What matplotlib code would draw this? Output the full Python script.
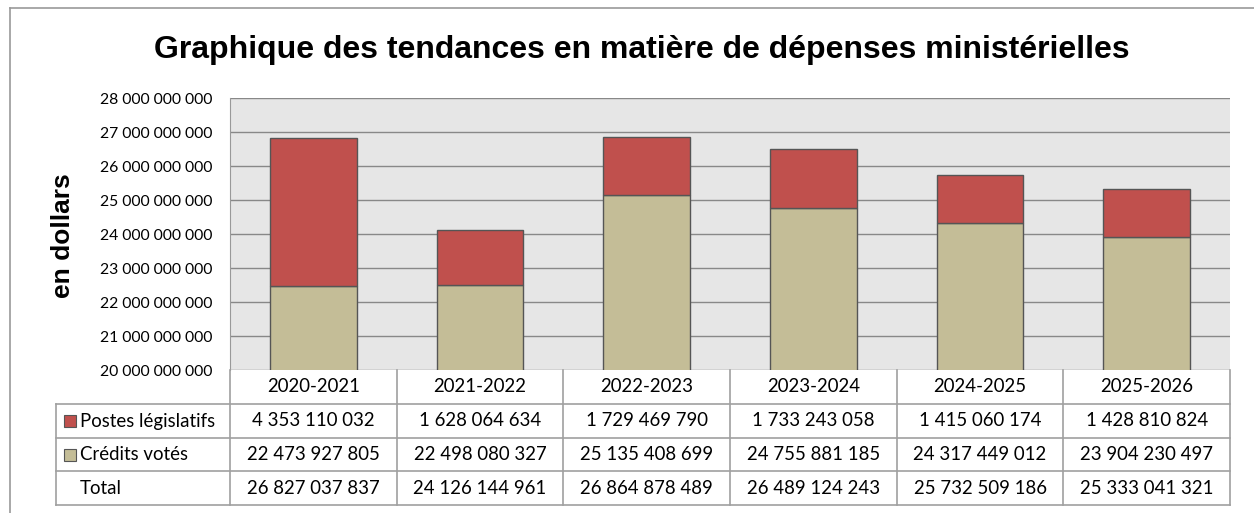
import matplotlib.pyplot as plt
from matplotlib.patches import Rectangle
from matplotlib.lines import Line2D

# data
years = ["2020-2021", "2021-2022", "2022-2023", "2023-2024", "2024-2025", "2025-2026"]
postes = [4353110032, 1628064634, 1729469790, 1733243058, 1415060174, 1428810824]
credits = [22473927805, 22498080327, 25135408699, 24755881185, 24317449012, 23904230497]
totals = [26827037837, 24126144961, 26864878489, 26489124243, 25732509186, 25333041321]

RED = "#c0504d"
TAN = "#c4bd97"
W, H = 1254, 513


def fmt(v):
    return f"{v:,}".replace(",", " ")


def fx(px):
    return px / W


def fy(py):
    return 1 - py / H


fig = plt.figure(figsize=(W / 100, H / 100), dpi=100)
plt.rcParams['font.family'] = ['Lato', 'DejaVu Sans']

# outer frame
fig.add_artist(Line2D([fx(10), 1.0], [fy(8), fy(8)], color="#999999", lw=1.2))
fig.add_artist(Line2D([fx(10), fx(10)], [fy(8), 0], color="#999999", lw=1.2))

fig.text(fx(642), fy(50), "Graphique des tendances en matière de dépenses ministérielles",
         ha="center", va="center", fontsize=23, fontweight="bold", family="Liberation Sans")
fig.text(fx(63), fy(236), "en dollars", rotation=90, ha="center", va="center",
         fontsize=19, fontweight="bold", family="Liberation Sans")

# bar chart area
left, right, top, bottom = 230, 1230, 98, 370
ax = fig.add_axes([fx(left), fy(bottom), fx(right - left), (bottom - top) / H])
ax.set_facecolor("#e6e6e6")
x = list(range(len(years)))
ax.bar(x, credits, width=0.52, color=TAN, edgecolor="#555555", lw=1, zorder=3)
ax.bar(x, postes, width=0.52, bottom=credits, color=RED, edgecolor="#555555", lw=1, zorder=3)
ax.set_xlim(-0.5, len(years) - 0.5)
ax.set_ylim(20e9, 28e9)
ticks = [20e9 + i * 1e9 for i in range(9)]
ax.set_yticks(ticks)
ax.set_yticklabels([fmt(int(t)) for t in ticks], fontsize=11.3)
ax.yaxis.grid(True, color="#888888", lw=1, zorder=0)
ax.set_xticks([])
for s in ["top", "right", "bottom"]:
    ax.spines[s].set_visible(False)
ax.spines["left"].set_color("#999999")
ax.tick_params(axis="y", length=0, pad=13)

# data table
tab = fig.add_axes([0, 0, 1, 1])
tab.set_xlim(0, W)
tab.set_ylim(H, 0)
tab.axis("off")
lc = "#a0a0a0"
rows = [370, 404, 438, 471, 505]
colw = (right - left) / len(years)
labx = 56
for r in rows[1:]:
    tab.plot([labx, right], [r, r], color=lc, lw=1.2)
tab.plot([labx, labx], [rows[1], rows[-1]], color=lc, lw=1.2)
for k in range(len(years) + 1):
    xx = left + k * colw
    tab.plot([xx, xx], [rows[0], rows[-1]], color=lc, lw=1.2)

rowdata = [("Postes législatifs", RED, postes),
           ("Crédits votés", TAN, credits),
           ("Total", None, totals)]
for k, yr in enumerate(years):
    tab.text(left + (k + 0.5) * colw, (rows[0] + rows[1]) / 2, yr,
             ha="center", va="center", fontsize=13.4)
for i, (name, col, vals) in enumerate(rowdata):
    yc = (rows[i + 1] + rows[i + 2]) / 2
    if col is not None:
        tab.add_patch(Rectangle((64, yc - 6), 12, 12, facecolor=col, edgecolor="#555555", lw=0.8))
    tab.text(80, yc, name, ha="left", va="center", fontsize=13.4)
    for k, v in enumerate(vals):
        tab.text(left + (k + 0.5) * colw, yc, fmt(v), ha="center", va="center", fontsize=13.4)

fig.savefig("out.png", dpi=100)
